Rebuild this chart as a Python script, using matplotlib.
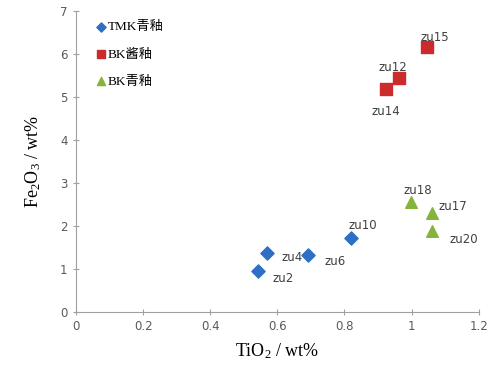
import matplotlib
matplotlib.use("Agg")
import matplotlib.pyplot as plt

plt.rcParams["mathtext.fontset"] = "custom"
plt.rcParams["mathtext.rm"] = "Liberation Serif"
plt.rcParams["mathtext.it"] = "Liberation Serif:italic"

tmk_x = [0.543, 0.57, 0.69, 0.82]
tmk_y = [0.95, 1.37, 1.33, 1.72]
tmk_lab = ["zu2", "zu4", "zu6", "zu10"]

bkj_x = [0.923, 0.963, 1.047]
bkj_y = [5.18, 5.44, 6.16]
bkj_lab = ["zu14", "zu12", "zu15"]

bkq_x = [0.998, 1.06, 1.062]
bkq_y = [2.56, 2.30, 1.88]
bkq_lab = ["zu18", "zu17", "zu20"]

series_names = ["TMK青釉", "BK酱釉", "BK青釉"]
xticks = [0, 0.2, 0.4, 0.6, 0.8, 1, 1.2]
yticks = [0, 1, 2, 3, 4, 5, 6, 7]

fig = plt.figure(figsize=(4.9, 3.82), dpi=100)
ax = fig.add_axes([0.155, 0.183, 0.822, 0.788])

ax.scatter(tmk_x, tmk_y, marker="D", s=45, color="#2e6fc4", label=series_names[0], zorder=3)
ax.scatter(bkj_x, bkj_y, marker="s", s=80, color="#cc2b2e", label=series_names[1], zorder=3)
ax.scatter(bkq_x, bkq_y, marker="^", s=70, color="#86b43a", label=series_names[2], zorder=3)

lab_col = "#404040"
fs = 8.5
offs_tmk = [(10, -5), (10, -3), (12, -5), (-2, 9)]
offs_bkj = [(-10, -16), (-15, 8), (-5, 7)]
offs_bkq = [(-5, 8), (5, 5), (12, -6)]
for xs, ys, labs, offs in [(tmk_x, tmk_y, tmk_lab, offs_tmk),
                           (bkj_x, bkj_y, bkj_lab, offs_bkj),
                           (bkq_x, bkq_y, bkq_lab, offs_bkq)]:
    for x, y, l, o in zip(xs, ys, labs, offs):
        ax.annotate(l, (x, y), xytext=o, textcoords="offset points",
                    fontsize=fs, color=lab_col, va="center", ha="left")

ax.set_xlim(0, 1.2)
ax.set_ylim(0, 7)
ax.set_xticks(xticks)
ax.set_xticklabels([str(t) for t in xticks])
ax.set_yticks(yticks)
for s in ["top", "right"]:
    ax.spines[s].set_visible(False)
for s in ["left", "bottom"]:
    ax.spines[s].set_color("#a0a0a0")
ax.tick_params(axis="both", colors="#a0a0a0", labelcolor="#595959", labelsize=8.5,
               direction="inout", length=5)

ax.set_xlabel("TiO$_2$ / wt%", fontsize=13, family="Liberation Serif", labelpad=6)
ax.set_ylabel("Fe$_2$O$_3$ / wt%", fontsize=13, family="Liberation Serif", labelpad=12)

leg = ax.legend(loc="upper left", bbox_to_anchor=(0.03, 0.985), frameon=False,
                handletextpad=-0.1, labelspacing=1.15, borderaxespad=0, handlelength=1.2,
                markerscale=0.7,
                prop={"family": ["Liberation Serif", "Noto Sans CJK SC"], "size": 9.5})

fig.savefig("out.png", dpi=100)
